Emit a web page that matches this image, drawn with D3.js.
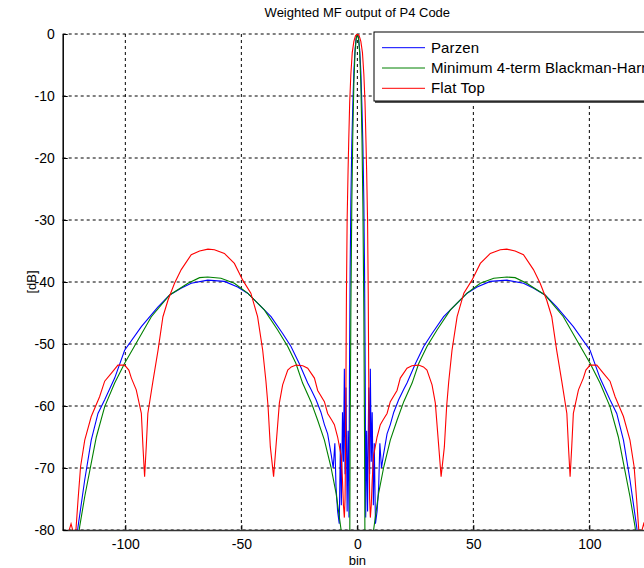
<!DOCTYPE html>
<html>
<head>
<meta charset="utf-8">
<script src="https://cdn.jsdelivr.net/npm/d3@7"></script>
<style>
  html, body { margin: 0; padding: 0; background: #fff; }
  svg { display: block; font-family: "Liberation Sans", Arial, Helvetica, sans-serif; }
</style>
</head>
<body>
<svg id="chart" width="644" height="568"></svg>
<script>
// Right half of each curve (bin >= 0); the plot is symmetric about bin 0
const parzenHalf = [
  [0, 0], [0.5, -0.6], [1, -2.5], [1.5, -6], [2, -12], [2.4, -18], [2.8, -27], [3.1, -38],
  [3.4, -55], [3.6, -78], [4.0, -64], [4.4, -77], [4.9, -57], [5.3, -71], [5.6, -54], [6.0, -69],
  [6.4, -61], [6.9, -76], [7.3, -66], [7.8, -79], [8.5, -77], [9.2, -73], [9.7, -66], [10.4, -70],
  [11.2, -68], [12.8, -64.5], [14.2, -63], [15.7, -61], [17.8, -59], [20, -57.3], [21.4, -56.3],
  [25, -53.2], [28.6, -50.4], [32.2, -48.3], [37.2, -45.6], [43, -43.4], [47.3, -41.8], [51.6, -40.8],
  [57.3, -39.9], [64.5, -39.7], [71.6, -40.2], [76, -41], [80.9, -42.1], [85.9, -44], [93.1, -47.2],
  [100.3, -51], [104.6, -55.5], [108.9, -59], [111.8, -61.2], [114.7, -65.5], [117.5, -71.9],
  [120.4, -79.5], [122, -85], [127, -95]
];

const blackmanHalf = [
  [0, 0], [0.5, -0.8], [1, -3], [1.5, -8], [2, -17], [2.4, -28], [2.8, -45], [3.1, -65], [3.3, -85],
  [5, -100], [7, -80], [9.2, -74], [11.4, -69.8], [14.2, -65.5], [17.1, -62.3], [20, -59.3],
  [23.6, -56.3], [26.5, -53.1], [30, -50.4], [34.4, -47.7], [40.1, -44.5], [47.3, -41.8], [53, -40.2],
  [58.8, -39.4], [64.5, -39.2], [68, -39.3], [73, -40.2], [80.9, -42.1], [88.8, -45.6], [94.6, -49.4],
  [100.3, -53.1], [104.6, -56.3], [108.9, -60.1], [112.5, -65], [114.7, -69.2], [117.5, -74.6],
  [119.7, -79.5], [121, -84], [127, -100]
];

const flatTopHalf = [
  [0, 0], [0.8, -0.3], [1.5, -1.2], [2.2, -3], [2.8, -6.5], [3.3, -11], [3.7, -17], [4.0, -22],
  [4.4, -30], [4.7, -42], [4.9, -55], [5.1, -68], [5.3, -75], [5.6, -78], [6.0, -76], [6.4, -72],
  [7, -68], [8.5, -65], [9.9, -63], [11, -62.3], [12.8, -61.2], [14.2, -59.3], [17.1, -57.5],
  [18.5, -55.5], [21.4, -53.9], [23.5, -53.5], [26.4, -53.4], [28.5, -53.7], [30, -54.2], [32.2, -56.6],
  [33.6, -59.5], [35.1, -66.6], [36.1, -71.4], [37.5, -66.6], [38.5, -60], [39.4, -56], [40.8, -51],
  [43, -45.6], [45.9, -41.8], [49.4, -39.7], [53, -37], [57.3, -35.4], [61.6, -34.8], [64.4, -34.7],
  [68, -35], [71.6, -35.6], [75.9, -38], [78.8, -40.2], [81.6, -42.9], [83.8, -45.6], [85.9, -51],
  [88.1, -56], [90.3, -61.2], [91, -66.6], [91.7, -71.4], [92.4, -66.6], [93.1, -61.2], [95.3, -57.4],
  [97.4, -55.5], [98.5, -54.2], [100.3, -53.4], [103.2, -53.4], [106, -54.7], [108.9, -56],
  [111.1, -58.5], [114.7, -61.7], [117.5, -65.5], [119.3, -69.8], [120.4, -75.2], [121.3, -80],
  [122, -84], [122.7, -80], [123.4, -79], [124.2, -80], [125, -86], [127, -92]
];

const seriesNames = ["Parzen", "Minimum 4-term Blackman-Harris", "Flat Top"];
const seriesColors = ["#0000ff", "#008000", "#ff0000"];
const xTicks = [-100, -50, 0, 50, 100];
const yTicks = [-80, -70, -60, -50, -40, -30, -20, -10, 0];

// mirror the half curves so both sides are drawn
function mirror(half) {
  const left = half.filter(d => d[0] > 0).map(d => [-d[0], d[1]]).reverse();
  return left.concat(half);
}
const series = [parzenHalf, blackmanHalf, flatTopHalf].map(mirror);

const margin = { left: 62.7, top: 34, right: 652, bottom: 530 };

const svg = d3.select("#chart");

const x = d3.scaleLinear().domain([-127, 127]).range([margin.left, margin.right]);
const y = d3.scaleLinear().domain([-80, 0]).range([margin.bottom, margin.top]);

svg.append("defs").append("clipPath").attr("id", "plot-clip")
  .append("rect")
  .attr("x", margin.left).attr("y", margin.top)
  .attr("width", margin.right - margin.left).attr("height", margin.bottom - margin.top);

// Grid (dotted like matlab)
const grid = svg.append("g").attr("class", "grid");
grid.selectAll(".vgrid")
  .data(xTicks)
  .enter()
  .append("line")
  .attr("x1", d => x(d)).attr("x2", d => x(d))
  .attr("y1", margin.top).attr("y2", margin.bottom)
  .attr("stroke", "#000")
  .attr("stroke-width", 1)
  .attr("stroke-dasharray", "3,3");

grid.selectAll(".hgrid")
  .data(yTicks)
  .enter()
  .append("line")
  .attr("x1", margin.left).attr("x2", margin.right)
  .attr("y1", d => y(d)).attr("y2", d => y(d))
  .attr("stroke", "#000")
  .attr("stroke-width", 1)
  .attr("stroke-dasharray", "3,3");

// Curves
const line = d3.line().x(d => x(d[0])).y(d => y(d[1]));

svg.append("g")
  .attr("clip-path", "url(#plot-clip)")
  .selectAll("path")
  .data(series)
  .enter()
  .append("path")
  .attr("d", line)
  .attr("fill", "none")
  .attr("stroke", (d, i) => seriesColors[i])
  .attr("stroke-width", 1.1);

// Axes (ticks pointing inward), plain hyphen minus like matlab
const fmt = d => String(d);
const xAxis = d3.axisBottom(x).tickValues(xTicks).tickFormat(fmt).tickSizeInner(-5).tickSizeOuter(0).tickPadding(9);
const yAxis = d3.axisLeft(y).tickValues(yTicks).tickFormat(fmt).tickSizeInner(-5).tickSizeOuter(0).tickPadding(8);

const gx = svg.append("g")
  .attr("transform", `translate(0,${margin.bottom})`)
  .call(xAxis);
gx.select(".domain").attr("stroke", "#333").attr("stroke-width", 1.5);
gx.selectAll(".tick line").attr("stroke", "#000");
gx.selectAll("text").attr("font-size", "14px").attr("fill", "#000")
  .attr("font-family", "'Liberation Sans', Arial, sans-serif");

const gy = svg.append("g")
  .attr("transform", `translate(${margin.left},0)`)
  .call(yAxis);
gy.select(".domain").attr("stroke", "#000").attr("stroke-width", 1.5);
gy.selectAll(".tick line").attr("stroke", "#000");
gy.selectAll("text").attr("font-size", "14px").attr("fill", "#000")
  .attr("font-family", "'Liberation Sans', Arial, sans-serif");

// Title and labels
svg.append("text")
  .attr("x", (margin.left + margin.right) / 2)
  .attr("y", 17)
  .attr("text-anchor", "middle")
  .attr("font-size", "13px")
  .text("Weighted MF output of P4 Code");

svg.append("text")
  .attr("x", (margin.left + margin.right) / 2)
  .attr("y", 565)
  .attr("text-anchor", "middle")
  .attr("font-size", "13px")
  .text("bin");

svg.append("text")
  .attr("transform", `translate(36,${(margin.top + margin.bottom) / 2}) rotate(-90)`)
  .attr("text-anchor", "middle")
  .attr("font-size", "13px")
  .text("[dB]");

// Legend
const legend = svg.append("g").attr("transform", "translate(374,32)");
legend.append("rect")
  .attr("x", 1).attr("y", 1)
  .attr("width", 300).attr("height", 70)
  .attr("fill", "#555");
legend.append("rect")
  .attr("x", 0).attr("y", 0)
  .attr("width", 300).attr("height", 69)
  .attr("fill", "#fff")
  .attr("stroke", "#000")
  .attr("stroke-width", 1);

const items = legend.selectAll(".item")
  .data(seriesNames)
  .enter()
  .append("g")
  .attr("transform", (d, i) => `translate(0,${15.7 + i * 20.3})`);

items.append("line")
  .attr("x1", 8).attr("x2", 51)
  .attr("y1", 0).attr("y2", 0)
  .attr("stroke", (d, i) => seriesColors[i])
  .attr("stroke-width", 1);

items.append("text")
  .attr("x", 57)
  .attr("y", 5)
  .attr("font-size", "15px")
  .attr("letter-spacing", "0.1px")
  .text(d => d);
</script>
</body>
</html>
